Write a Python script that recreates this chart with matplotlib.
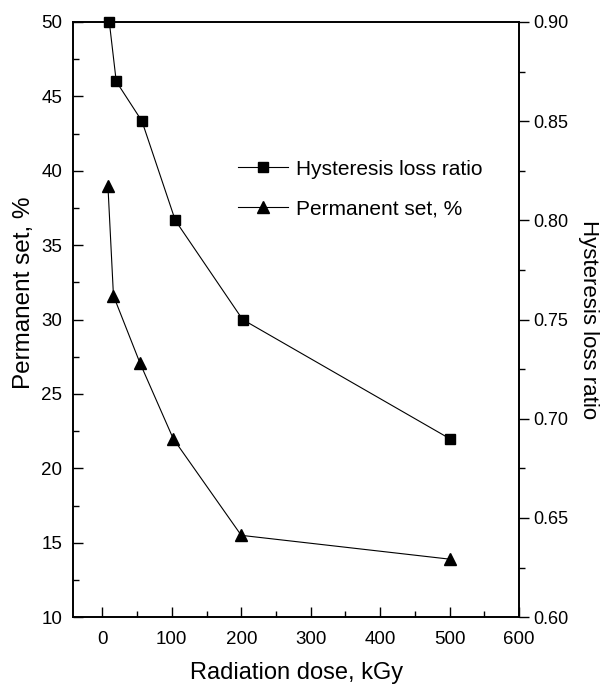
import matplotlib
matplotlib.use('Agg')
import matplotlib.pyplot as plt
from matplotlib.ticker import MultipleLocator

plt.rcParams['font.family'] = ['Liberation Sans', 'DejaVu Sans']

# dose, kGy
dose_hyst = [10, 20, 57, 105, 202, 500]
hyst_ratio = [0.90, 0.87, 0.85, 0.80, 0.75, 0.69]

dose_set = [8, 16, 54, 102, 200, 500]
perm_set = [39.0, 31.6, 27.1, 22.0, 15.5, 13.9]

fig = plt.figure(figsize=(6.15, 6.85), dpi=100)
ax = fig.add_axes([0.119, 0.099, 0.725, 0.869])
ax2 = ax.twinx()

l2, = ax.plot(dose_set, perm_set, '-', color='black', lw=0.8,
              marker='^', ms=8, mfc='black', mec='black')
l1, = ax2.plot(dose_hyst, hyst_ratio, '-', color='black', lw=0.8,
               marker='s', ms=7, mfc='black', mec='black', clip_on=False)

ax.set_xlim(-42, 600)
ax.set_ylim(10, 50)
ax2.set_ylim(0.60, 0.90)

ax.xaxis.set_major_locator(MultipleLocator(100))
ax.xaxis.set_minor_locator(MultipleLocator(50))
ax.yaxis.set_major_locator(MultipleLocator(5))
ax.yaxis.set_minor_locator(MultipleLocator(2.5))
ax2.yaxis.set_major_locator(MultipleLocator(0.05))
ax2.yaxis.set_minor_locator(MultipleLocator(0.025))
ax2.set_yticks(ax2.get_yticks())
ax2.set_yticklabels(['%.2f' % v for v in ax2.get_yticks()])
ax2.set_ylim(0.60, 0.90)

ax.tick_params(axis='both', which='major', direction='in', length=7, width=1,
               labelsize=13.5, top=False, right=False)
ax.tick_params(axis='both', which='minor', direction='in', length=4, width=1,
               top=False, right=False)
ax.tick_params(axis='x', pad=10)
ax.tick_params(axis='y', pad=8)
ax2.tick_params(axis='y', which='major', direction='out', length=7, width=1,
                labelsize=13)
ax2.tick_params(axis='y', which='minor', direction='out', length=4, width=1)

for sp in ax.spines.values():
    sp.set_linewidth(1.2)
for sp in ax2.spines.values():
    sp.set_linewidth(1.2)

ax.set_xlabel('Radiation dose, kGy', fontsize=17, labelpad=10)
ax.set_ylabel('Permanent set, %', fontsize=17.5)
ax.yaxis.set_label_coords(-0.085, 0.545)
ax2.set_ylabel('Hysteresis loss ratio', fontsize=16, rotation=270, labelpad=22)

ax.legend([l1, l2], ['Hysteresis loss ratio', 'Permanent set, %'],
          loc='upper left', bbox_to_anchor=(0.327, 0.80), frameon=False,
          fontsize=15, handlelength=2.4, labelspacing=1.0, handletextpad=0.4)

fig.savefig('out.png', dpi=100)
